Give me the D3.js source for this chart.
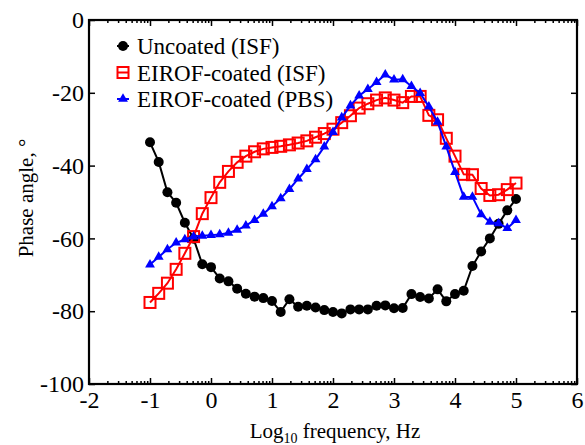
<!DOCTYPE html>
<html>
<head>
<meta charset="utf-8">
<script src="https://cdn.jsdelivr.net/npm/d3@7"></script>
<style>
  body { margin: 0; background: #fff; }
  text { font-family: "Liberation Serif", "DejaVu Serif", serif; }
</style>
</head>
<body>
<div id="chart"></div>
<script>
// Data ////////////////////////////////////
// log10 frequency: 7 points per decade from 0.1 Hz to 100 kHz
var logFreq = d3.range(43).map(function(i) { return -1 + i / 7; });

var uncoatedISF = [-33.6, -39.0, -47.3, -50.2, -55.7, -60.1, -67.1, -67.9, -71.0, -71.8,
  -73.8, -75.2, -76.0, -76.4, -77.2, -80.2, -76.7, -78.8, -78.5, -79.0,
  -79.7, -80.2, -80.6, -79.5, -79.5, -79.5, -78.5, -78.4, -79.2, -79.1,
  -75.3, -76.1, -76.5, -74.0, -77.3, -75.3, -74.4, -67.6, -63.6, -60.0,
  -56.0, -52.3, -49.2];

var eirofISF = [-77.6, -75.1, -72.3, -68.5, -64.1, -59.5, -53.2, -48.8, -44.6, -41.6,
  -39.1, -37.4, -36.2, -35.4, -35.0, -34.7, -34.3, -33.8, -33.2, -32.2,
  -31.2, -30.0, -28.2, -26.3, -24.2, -23.0, -22.0, -21.4, -22.0, -22.7,
  -21.0, -21.0, -26.2, -27.4, -32.5, -37.4, -42.4, -42.5, -46.3, -48.2,
  -48.0, -46.6, -44.8];

var eirofPBS = [-67.2, -65.1, -63.0, -61.2, -60.3, -59.5, -59.3, -59.1, -58.9, -58.5,
  -57.7, -56.5, -55.0, -53.3, -51.2, -49.0, -46.5, -43.6, -41.0, -38.3,
  -34.8, -30.8, -26.8, -23.5, -20.8, -19.0, -17.1, -15.0, -16.4, -16.3,
  -18.2, -20.1, -23.8, -28.0, -34.8, -41.8, -48.6, -48.6, -53.4, -55.5,
  -55.9, -57.2, -55.0];

var seriesNames = ["Uncoated (ISF)", "EIROF-coated (ISF)", "EIROF-coated (PBS)"];
var xTicks = [-2, -1, 0, 1, 2, 3, 4, 5, 6];
var yTicks = [0, -20, -40, -60, -80, -100];

var series = [
  { name: seriesNames[0], values: uncoatedISF, color: "#000000", symbol: "circle" },
  { name: seriesNames[1], values: eirofISF, color: "#ff0000", symbol: "square" },
  { name: seriesNames[2], values: eirofPBS, color: "#0000ff", symbol: "triangle" }
];

// Chart config ////////////////////////////
var width = 585, height = 445;
var margin = { top: 20, right: 8, bottom: 61, left: 89 };
var innerW = width - margin.left - margin.right,
    innerH = height - margin.top - margin.bottom;

var xScale = d3.scaleLinear().domain([-2, 6]).range([0, innerW]);
var yScale = d3.scaleLinear().domain([-100, 0]).range([innerH, 0]);

var svg = d3.select("#chart").append("svg")
  .attr("width", width)
  .attr("height", height);

var g = svg.append("g")
  .attr("transform", "translate(" + margin.left + "," + margin.top + ")");

// minor ticks, log-like inside each decade
var minorTicks = [];
for (var d = -2; d < 6; d++) {
  for (var m = 2; m <= 9; m++) minorTicks.push(d + Math.log10(m));
}

// axes with inward ticks
var xAxisBottom = d3.axisBottom(xScale).tickValues(xTicks).tickSize(-6).tickPadding(7)
  .tickFormat(function(d) { return d < 0 ? "-" + Math.abs(d) : d; });
var xAxisTop = d3.axisTop(xScale).tickValues(xTicks).tickSize(-6).tickFormat("");
var xMinorBottom = d3.axisBottom(xScale).tickValues(minorTicks).tickSize(-3).tickFormat("");
var xMinorTop = d3.axisTop(xScale).tickValues(minorTicks).tickSize(-3).tickFormat("");
var yAxisLeft = d3.axisLeft(yScale).tickValues(yTicks).tickSize(-6).tickPadding(5)
  .tickFormat(function(d) { return d < 0 ? "-" + Math.abs(d) : d; });
var yAxisRight = d3.axisRight(yScale).tickValues(yTicks).tickSize(-6).tickFormat("");

function styleAxis(sel) {
  sel.attr("font-family", null).attr("font-size", 24);
  sel.select(".domain").remove();
  sel.selectAll("line").attr("stroke", "#000").attr("stroke-width", 1.5);
  sel.selectAll("text").attr("fill", "#000");
}

g.append("g").attr("transform", "translate(0," + innerH + ")").call(xAxisBottom).call(styleAxis);
g.append("g").attr("transform", "translate(0," + innerH + ")").call(xMinorBottom).call(styleAxis);
g.append("g").call(xAxisTop).call(styleAxis);
g.append("g").call(xMinorTop).call(styleAxis);
g.append("g").call(yAxisLeft).call(styleAxis);
g.append("g").attr("transform", "translate(" + innerW + ",0)").call(yAxisRight).call(styleAxis);

// frame
g.append("rect")
  .attr("width", innerW).attr("height", innerH)
  .attr("fill", "none").attr("stroke", "#000").attr("stroke-width", 2.2);

// lines + markers
var line = d3.line()
  .x(function(d, i) { return xScale(logFreq[i]); })
  .y(function(d) { return yScale(d); });

function drawMarker(sel, s) {
  if (s.symbol === "circle") {
    sel.append("circle").attr("r", 5).attr("fill", s.color);
  } else if (s.symbol === "square") {
    sel.append("rect").attr("x", -5.5).attr("y", -5.5).attr("width", 11).attr("height", 11)
      .attr("fill", "none").attr("stroke", s.color).attr("stroke-width", 2);
  } else {
    sel.append("path").attr("d", d3.symbol().type(d3.symbolTriangle).size(42)())
      .attr("fill", s.color);
  }
}

series.forEach(function(s) {
  g.append("path").datum(s.values)
    .attr("d", line)
    .attr("fill", "none")
    .attr("stroke", s.color)
    .attr("stroke-width", 2);
  g.selectAll(null).data(s.values).enter().append("g")
    .attr("transform", function(d, i) { return "translate(" + xScale(logFreq[i]) + "," + yScale(d) + ")"; })
    .each(function() { drawMarker(d3.select(this), s); });
});

// legend
var legend = g.append("g").attr("transform", "translate(34,26)");
series.forEach(function(s, i) {
  var row = legend.append("g").attr("transform", "translate(0," + (i * 26.5) + ")");
  row.append("line").attr("x1", -6).attr("x2", 6).attr("stroke", s.color).attr("stroke-width", 2);
  drawMarker(row, s);
  row.append("text").attr("x", 14).attr("y", 8)
    .attr("font-size", 23).attr("fill", "#000").text(s.name);
});

// axis titles
var xTitle = svg.append("text")
  .attr("x", margin.left + innerW / 2 + 2)
  .attr("y", 438)
  .attr("text-anchor", "middle")
  .attr("font-size", 21);
xTitle.append("tspan").text("Log");
xTitle.append("tspan").attr("font-size", 14).attr("dy", 5).text("10");
xTitle.append("tspan").attr("dy", -5).text(" frequency, Hz");

svg.append("text")
  .attr("transform", "translate(33,198) rotate(-90)")
  .attr("text-anchor", "middle")
  .attr("font-size", 21)
  .text("Phase angle, °");
</script>
</body>
</html>
